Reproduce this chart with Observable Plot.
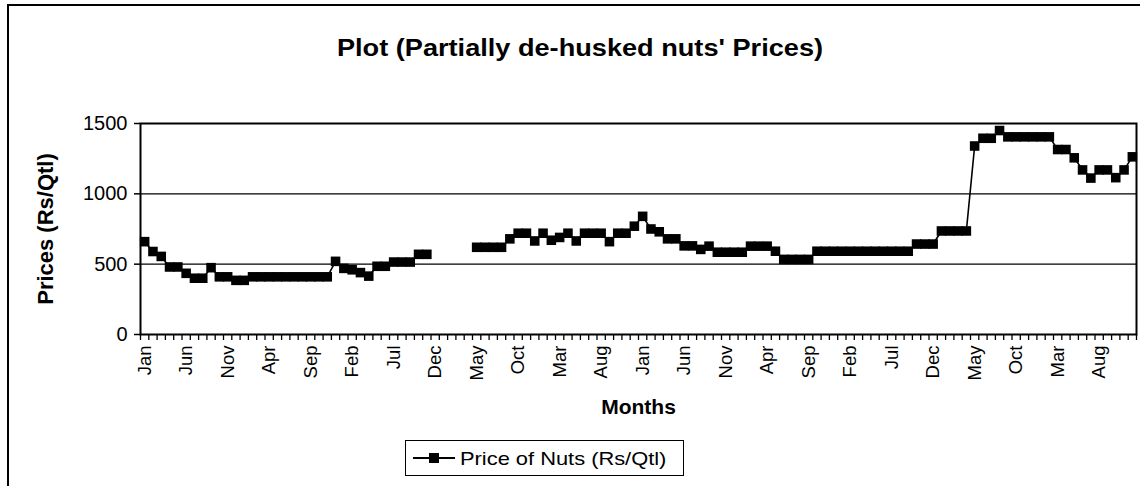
<!DOCTYPE html>
<html>
<head>
<meta charset="utf-8">
<script src="https://cdn.jsdelivr.net/npm/d3@7"></script>
<script src="https://cdn.jsdelivr.net/npm/@observablehq/plot@0.6"></script>
<style>
  body { margin: 0; background: #fff; }
  #wrap { position: relative; width: 1140px; height: 486px; overflow: hidden; font-family: "Liberation Sans", Arial, sans-serif; color: #000; }
  .bt { position: absolute; left: 7px; top: 4px; width: 1133px; height: 2px; background: #000; }
  .bl { position: absolute; left: 7px; top: 4px; width: 2px; height: 482px; background: #000; }
  #title { position: absolute; left: 580px; top: 37px; font-size: 23px; font-weight: bold; line-height: 1; white-space: nowrap; transform: translateX(-50%) scaleX(1.18); }
  #chart { position: absolute; left: 0; top: 80px; }
  #legend { position: absolute; left: 405px; top: 440px; width: 279px; height: 36px; border: 1.5px solid #000; box-sizing: border-box; }
  #legend svg { position: absolute; left: 5px; top: 0; }
  #legend span { position: absolute; left: 54px; top: 8px; font-size: 19px; line-height: 1; white-space: nowrap; transform-origin: left center; transform: scaleX(1.15); }
</style>
</head>
<body>
<div id="wrap">
  <div class="bt"></div>
  <div class="bl"></div>
  <div id="title">Plot (Partially de-husked nuts' Prices)</div>
  <div id="chart"></div>
  <div id="legend">
    <svg width="46" height="34"><line x1="2" x2="44" y1="17" y2="17" stroke="#000" stroke-width="2"/><rect x="18" y="12" width="10" height="10" fill="#000"/></svg>
    <span>Price of Nuts (Rs/Qtl)</span>
  </div>
</div>
<script>
const monthNames = ["Jan","Feb","Mar","Apr","May","Jun","Jul","Aug","Sep","Oct","Nov","Dec"];
const yTicks = [0, 500, 1000, 1500];
const prices = [
  660, 590, 555, 480, 480, 435, 400, 400, 475, 410, 410, 385,
  385, 410, 410, 410, 410, 410, 410, 410, 410, 410, 410, 520,
  470, 460, 440, 415, 485, 485, 515, 515, 515, 570, 570, null,
  null, null, null, null, 620, 620, 620, 620, 680, 720, 720, 665,
  720, 670, 690, 720, 665, 720, 720, 720, 660, 720, 720, 770,
  840, 750, 730, 680, 680, 630, 630, 605, 628, 585, 585, 585,
  585, 628, 628, 628, 592, 534, 534, 534, 534, 592, 592, 592,
  592, 592, 592, 592, 592, 592, 592, 592, 592, 643, 643, 643,
  736, 736, 736, 736, 1340, 1395, 1395, 1450, 1405, 1405, 1405, 1405,
  1405, 1405, 1315, 1315, 1256, 1170, 1112, 1170, 1170, 1115, 1170, 1263
];
const data = prices.map((p, i) => ({i, p}));
const labelIdx = d3.range(0, prices.length, 5);
const boundaries = d3.range(0, prices.length + 1).map(k => k - 0.5);

const chart = Plot.plot({
  width: 1140, height: 350,
  marginLeft: 140, marginRight: 4, marginTop: 43, marginBottom: 96,
  x: {type: "linear", domain: [-0.5, prices.length - 0.5], axis: null},
  y: {domain: [0, 1500], axis: null},
  style: {fontFamily: "'Liberation Sans', Arial, sans-serif", color: "#000", background: "transparent", overflow: "visible"},
  marks: [
    Plot.ruleY([500, 1000], {stroke: "#000", strokeWidth: 1.3}),
    Plot.frame({stroke: "#000", strokeWidth: 2}),
    Plot.axisY({ticks: yTicks, label: null, tickSize: 6, tickPadding: 7, fontSize: 20, tickFormat: d => String(d), stroke: "#000", strokeWidth: 1.5}),
    Plot.axisX({ticks: boundaries, label: null, tickSize: 6, tickFormat: () => "", stroke: "#000", strokeWidth: 1.3}),
    Plot.axisX({ticks: labelIdx, label: null, tickSize: 0, tickPadding: 11, tickRotate: -90, fontSize: 18.5, tickFormat: i => monthNames[i % 12]}),
    Plot.line(data, {x: "i", y: "p", stroke: "#000", strokeWidth: 1.6}),
    Plot.dot(data, {x: "i", y: "p", symbol: "square", r: 5.4, fill: "#000", stroke: "none"}),
    Plot.text(["Prices (Rs/Qtl)"], {text: d => d, frameAnchor: "left", textAnchor: "middle", dx: -95, rotate: -90, fontSize: 22, fontWeight: "bold"}),
    Plot.text(["Months"], {text: d => d, frameAnchor: "bottom", textAnchor: "middle", dy: 79, fontSize: 21, fontWeight: "bold"})
  ]
});
document.getElementById("chart").appendChild(chart);
</script>
</body>
</html>
